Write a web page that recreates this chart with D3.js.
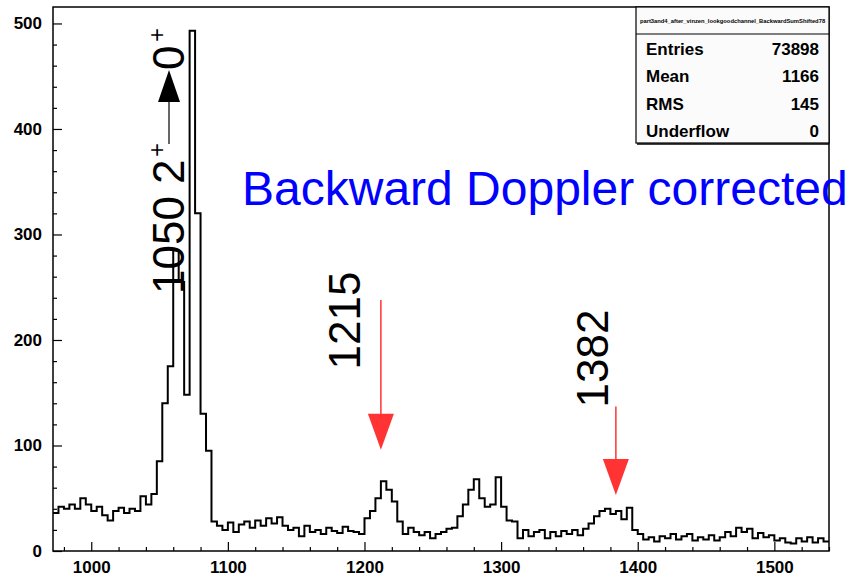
<!DOCTYPE html>
<html>
<head>
<meta charset="utf-8">
<script src="https://cdn.jsdelivr.net/npm/d3@7"></script>
<style>
  body { margin: 0; background: #fff; }
  svg { display: block; font-family: "Liberation Sans", Arial, sans-serif; }
  .tick text { font-size: 17px; font-weight: bold; fill: #000; }
  .tick line { stroke: #000; stroke-width: 1.2; }
</style>
</head>
<body>
<div id="chart"></div>
<script>
// histogram: 4 keV bins starting at 972
const binStart = 972;
const binWidth = 4;
const counts = [
  36, 42, 40, 44, 40, 50, 44, 38, 42, 34,
  29, 38, 41, 36, 40, 38, 52, 44, 54, 85,
  140, 175, 285, 255, 148, 493, 320, 130, 95, 28,
  24, 20, 27, 18, 25, 28, 22, 29, 24, 31,
  26, 32, 24, 20, 22, 14, 24, 18, 20, 16,
  22, 19, 17, 23, 19, 18, 16, 31, 38, 50,
  66, 58, 47, 28, 16, 22, 18, 15, 18, 12,
  16, 18, 21, 22, 33, 44, 58, 68, 50, 42,
  44, 70, 42, 29, 28, 12, 20, 14, 18, 20,
  12, 18, 14, 19, 16, 20, 15, 21, 26, 33,
  38, 40, 35, 38, 30, 41, 20, 16, 11, 13,
  9, 14, 12, 16, 11, 14, 16, 10, 13, 11,
  15, 10, 13, 18, 14, 22, 18, 21, 12, 17,
  13, 15, 10, 12, 8, 7, 12, 9, 13, 8,
  12, 9
];
const xRange = [972, 1540];
const yMax = 515.6;
const xMajor = [1000, 1100, 1200, 1300, 1400, 1500];
const yMajor = [0, 100, 200, 300, 400, 500];

const statsTitle = 'part3and4_after_vinzen_lookgoodchannel_BackwardSumShifted78';
const statsNames = ['Entries', 'Mean', 'RMS', 'Underflow'];
const statsValues = ['73898', '1166', '145', '0'];

// red markers: arrow energy, arrow top and tip (counts), label baseline energy and start (counts)
const markers = [
  { energy: 1212, top: 238, tip: 96, label: '1215', labelE: 1197, labelC: 172 },
  { energy: 1384, top: 137, tip: 53, label: '1382', labelE: 1378, labelC: 136 }
];

const width = 852;
const height = 579;
const margin = { top: 7, right: 23, bottom: 28, left: 53 };

function drawChart() {
  const svg = d3.select('#chart')
    .append('svg')
    .attr('width', width)
    .attr('height', height);

  const x = d3.scaleLinear().domain(xRange).range([margin.left, width - margin.right]);
  const y = d3.scaleLinear().domain([0, yMax]).range([height - margin.bottom, margin.top]);

  const minorX = d3.range(980, 1541, 20).filter(d => d % 100 !== 0);
  const minorY = d3.range(20, 520, 20).filter(d => d % 100 !== 0);

  // ticks point into the frame, like ROOT
  svg.append('g')
    .attr('transform', `translate(0,${y(0)})`)
    .call(d3.axisBottom(x).tickValues(minorX).tickSize(-4).tickFormat(''))
    .call(g => g.select('.domain').remove());
  svg.append('g')
    .attr('transform', `translate(0,${y(0)})`)
    .call(d3.axisBottom(x).tickValues(xMajor).tickSize(-9).tickPadding(10).tickFormat(d3.format('d')))
    .call(g => g.select('.domain').remove());

  svg.append('g')
    .attr('transform', `translate(${x(xRange[0])},0)`)
    .call(d3.axisLeft(y).tickValues(minorY).tickSize(-4).tickFormat(''))
    .call(g => g.select('.domain').remove());
  svg.append('g')
    .attr('transform', `translate(${x(xRange[0])},0)`)
    .call(d3.axisLeft(y).tickValues(yMajor).tickSize(-9).tickPadding(11).tickFormat(d3.format('d')))
    .call(g => g.select('.domain').remove());

  // histogram as steps
  const pts = counts.map((c, i) => [binStart + i * binWidth, c]);
  pts.push([binStart + counts.length * binWidth, counts[counts.length - 1]]);
  const line = d3.line()
    .x(d => x(d[0]))
    .y(d => y(d[1]))
    .curve(d3.curveStepAfter);
  svg.append('path')
    .datum(pts)
    .attr('d', line)
    .attr('fill', 'none')
    .attr('stroke', '#000')
    .attr('stroke-width', 2);

  // frame
  svg.append('rect')
    .attr('x', x(xRange[0]))
    .attr('y', y(yMax))
    .attr('width', x(xRange[1]) - x(xRange[0]))
    .attr('height', y(0) - y(yMax))
    .attr('fill', 'none')
    .attr('stroke', '#000')
    .attr('stroke-width', 1.5);

  drawStats(svg, x, y);
  drawAnnotations(svg, x, y);
}

function drawStats(svg, x, y) {
  const left = 636, right = x(xRange[1]), top = y(yMax), mid = 34, bottom = 143;
  const box = svg.append('g');
  box.append('rect')
    .attr('x', left).attr('y', top)
    .attr('width', right - left).attr('height', bottom - top)
    .attr('fill', '#fbfbfb').attr('stroke', '#000').attr('stroke-width', 1.2);
  box.append('line')
    .attr('x1', left).attr('x2', right).attr('y1', mid).attr('y2', mid)
    .attr('stroke', '#000').attr('stroke-width', 1);
  box.append('line')
    .attr('x1', left + 1).attr('x2', right).attr('y1', bottom + 1).attr('y2', bottom + 1)
    .attr('stroke', '#000').attr('stroke-width', 1.5);
  box.append('text')
    .attr('x', (left + right) / 2).attr('y', 23)
    .attr('text-anchor', 'middle')
    .style('font-size', '5.8px').style('font-weight', 'bold')
    .text(statsTitle);

  const rowY = d3.scalePoint().domain(statsNames).range([49, 131]);
  statsNames.forEach((name, i) => {
    box.append('text')
      .attr('x', left + 10).attr('y', rowY(name)).attr('dy', '0.35em')
      .style('font-size', '17px').style('font-weight', 'bold')
      .text(name);
    box.append('text')
      .attr('x', right - 10).attr('y', rowY(name)).attr('dy', '0.35em')
      .attr('text-anchor', 'end')
      .style('font-size', '17px').style('font-weight', 'bold')
      .text(statsValues[i]);
  });
}

function drawAnnotations(svg, x, y) {
  // 1050 2+ -> 0+ transition label, written bottom-up
  const g = svg.append('g').attr('transform', 'translate(184,294) rotate(-90)');
  g.append('text').attr('x', 0).attr('y', 0)
    .style('font-size', '44px').text('1050 2');
  g.append('text').attr('x', 137).attr('y', -19)
    .style('font-size', '24px').text('+');
  g.append('line')
    .attr('x1', 150).attr('x2', 194).attr('y1', -15).attr('y2', -15)
    .attr('stroke', '#000').attr('stroke-width', 1.2);
  g.append('path')
    .attr('d', 'M192,-26 L224,-15 L192,-4 Z')
    .attr('fill', '#000');
  g.append('text').attr('x', 224).attr('y', 0)
    .style('font-size', '44px').text('0');
  g.append('text').attr('x', 252).attr('y', -19)
    .style('font-size', '24px').text('+');

  svg.append('text')
    .attr('x', 242).attr('y', 205)
    .attr('fill', '#0000ff')
    .style('font-size', '48px')
    .text('Backward Doppler corrected');

  markers.forEach(m => {
    const cx = x(m.energy);
    svg.append('line')
      .attr('x1', cx).attr('x2', cx)
      .attr('y1', y(m.top)).attr('y2', y(m.tip) - 34)
      .attr('stroke', '#ff3333').attr('stroke-width', 1.5);
    svg.append('path')
      .attr('d', `M${cx - 13},${y(m.tip) - 36} L${cx + 13},${y(m.tip) - 36} L${cx},${y(m.tip)} Z`)
      .attr('fill', '#ff3333');
    svg.append('text')
      .attr('transform', `translate(${x(m.labelE)},${y(m.labelC)}) rotate(-90)`)
      .style('font-size', '44px')
      .text(m.label);
  });
}

drawChart();
</script>
</body>
</html>
